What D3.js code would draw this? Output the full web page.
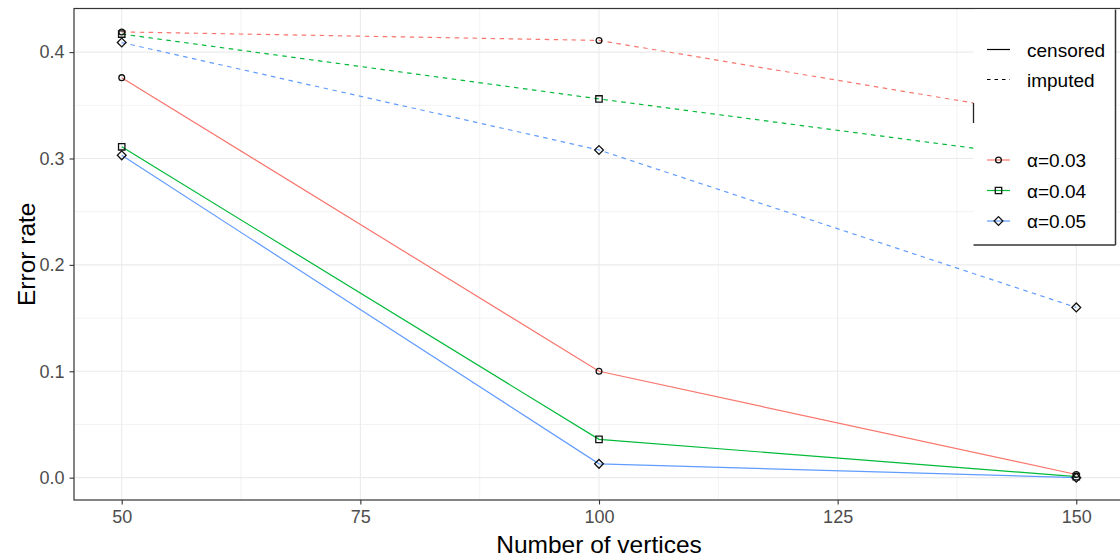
<!DOCTYPE html>
<html>
<head>
<meta charset="utf-8">
<script src="https://cdn.jsdelivr.net/npm/d3@7"></script>
<style>
  html, body { margin: 0; padding: 0; background: #fff; }
  svg { display: block; font-family: "Liberation Sans", Arial, sans-serif; }
</style>
</head>
<body>
<svg id="chart" width="1120" height="560"></svg>
<script>
// Error rate by number of vertices, for three significance levels
const vertices = [50, 100, 150];
const xTicks = [50, 75, 100, 125, 150];
const yTicks = [0, 0.1, 0.2, 0.3, 0.4];
const alphaLabels = ["α=0.03", "α=0.04", "α=0.05"];
const methodLabels = ["censored", "imputed"];

const censored003 = [0.376, 0.100, 0.003];
const censored004 = [0.311, 0.036, 0.001];
const censored005 = [0.303, 0.013, 0.000];
const imputed003 = [0.419, 0.411, 0.336];
const imputed004 = [0.417, 0.356, 0.297];
const imputed005 = [0.409, 0.308, 0.160];

const colors = ["#F8766D", "#00BA38", "#619CFF"];
const shapes = ["circle", "square", "diamond"];

const series = [
  { method: "censored", alpha: 0, values: censored003 },
  { method: "censored", alpha: 1, values: censored004 },
  { method: "censored", alpha: 2, values: censored005 },
  { method: "imputed", alpha: 0, values: imputed003 },
  { method: "imputed", alpha: 1, values: imputed004 },
  { method: "imputed", alpha: 2, values: imputed005 }
];

const svg = d3.select("#chart");
const panel = { left: 74, top: 8.5, right: 1124, bottom: 500 };

// ggplot-style 5% expansion on both axes
const x = d3.scaleLinear().domain([45, 155]).range([panel.left, panel.right]);
const yMax = 0.42;
const y = d3.scaleLinear().domain([-0.05 * yMax, yMax * 1.05]).range([panel.bottom, panel.top]);

svg.append("defs").append("clipPath").attr("id", "panel-clip")
  .append("rect").attr("x", panel.left).attr("y", panel.top)
  .attr("width", panel.right - panel.left).attr("height", panel.bottom - panel.top);

const g = svg.append("g").attr("clip-path", "url(#panel-clip)");

// minor grid
const xMinor = d3.range(62.5, 150, 25);
const yMinor = [0.05, 0.15, 0.25, 0.35];
g.selectAll(".xminor").data(xMinor).join("line")
  .attr("x1", d => x(d)).attr("x2", d => x(d))
  .attr("y1", panel.top).attr("y2", panel.bottom)
  .attr("stroke", "#EBEBEB").attr("stroke-width", 0.6);
g.selectAll(".yminor").data(yMinor).join("line")
  .attr("y1", d => y(d)).attr("y2", d => y(d))
  .attr("x1", panel.left).attr("x2", panel.right)
  .attr("stroke", "#EBEBEB").attr("stroke-width", 0.6);

// major grid
g.selectAll(".xmajor").data(xTicks).join("line")
  .attr("x1", d => x(d)).attr("x2", d => x(d))
  .attr("y1", panel.top).attr("y2", panel.bottom)
  .attr("stroke", "#EBEBEB").attr("stroke-width", 1.1);
g.selectAll(".ymajor").data(yTicks).join("line")
  .attr("y1", d => y(d)).attr("y2", d => y(d))
  .attr("x1", panel.left).attr("x2", panel.right)
  .attr("stroke", "#EBEBEB").attr("stroke-width", 1.1);

// lines
const line = d3.line().x((d, i) => x(vertices[i])).y(d => y(d));
g.selectAll(".series").data(series).join("path")
  .attr("d", d => line(d.values))
  .attr("fill", "none")
  .attr("stroke", d => colors[d.alpha])
  .attr("stroke-width", 1.2)
  .attr("stroke-dasharray", d => d.method === "imputed" ? "4.5,4.5" : null);

// point symbols
function symbolPath(shape) {
  if (shape === "circle") return d3.symbol(d3.symbolCircle, 26)();
  if (shape === "square") return "M-3.2,-3.2H3.2V3.2H-3.2Z";
  return "M0,-4.4L4.4,0L0,4.4L-4.4,0Z";
}
series.forEach(s => {
  g.selectAll(null).data(s.values).join("path")
    .attr("transform", (d, i) => `translate(${x(vertices[i])},${y(d)})`)
    .attr("d", symbolPath(shapes[s.alpha]))
    .attr("fill", "none").attr("stroke", "#111").attr("stroke-width", 1.3);
});

// panel border
svg.append("rect")
  .attr("x", panel.left).attr("y", panel.top)
  .attr("width", panel.right - panel.left).attr("height", panel.bottom - panel.top)
  .attr("fill", "none").attr("stroke", "#333333").attr("stroke-width", 1.2);

// axes
const xAxis = svg.append("g").attr("transform", `translate(0,${panel.bottom})`)
  .call(d3.axisBottom(x).tickValues(xTicks).tickSize(4.5).tickPadding(6).tickFormat(d3.format("d")));
const yAxis = svg.append("g").attr("transform", `translate(${panel.left},0)`)
  .call(d3.axisLeft(y).tickValues(yTicks).tickSize(4.5).tickPadding(5).tickFormat(d3.format(".1f")));
[xAxis, yAxis].forEach(a => {
  a.select(".domain").remove();
  a.selectAll(".tick line").attr("stroke", "#333333").attr("stroke-width", 1.1);
  a.selectAll(".tick text").attr("fill", "#4D4D4D")
    .style("font-size", "18px").style("font-family", "'Liberation Sans', Arial, sans-serif");
});

// axis titles
svg.append("text").attr("x", (panel.left + panel.right) / 2).attr("y", 553)
  .attr("text-anchor", "middle").attr("fill", "#000")
  .style("font-size", "24.5px").text("Number of vertices");
svg.append("text").attr("transform", `translate(35,${(panel.top + panel.bottom) / 2}) rotate(-90)`)
  .attr("text-anchor", "middle").attr("fill", "#000")
  .style("font-size", "24.5px").text("Error rate");

// legend box
const lg = svg.append("g");
const box = { x0: 973.5, x1: 1115.5, y0: 9.5, y1: 245 };
lg.append("rect").attr("x", box.x0).attr("y", box.y0)
  .attr("width", box.x1 - box.x0).attr("height", box.y1 - box.y0).attr("fill", "#fff");
lg.append("line").attr("x1", box.x1).attr("x2", box.x1).attr("y1", box.y0).attr("y2", box.y1)
  .attr("stroke", "#333333").attr("stroke-width", 1.5);
lg.append("line").attr("x1", box.x0).attr("x2", box.x1).attr("y1", box.y1).attr("y2", box.y1)
  .attr("stroke", "#333333").attr("stroke-width", 1.5);
lg.append("line").attr("x1", box.x0).attr("x2", box.x0).attr("y1", 103).attr("y2", 123)
  .attr("stroke", "#222").attr("stroke-width", 1.3);

const keyX0 = 987, keyX1 = 1010, textX = 1027;
const methodY = [49.5, 79.5];
methodLabels.forEach((m, i) => {
  lg.append("line").attr("x1", keyX0).attr("x2", keyX1).attr("y1", methodY[i]).attr("y2", methodY[i])
    .attr("stroke", "#000").attr("stroke-width", 1.2)
    .attr("stroke-dasharray", m === "imputed" ? "3.5,4" : null);
  lg.append("text").attr("x", textX).attr("y", methodY[i] + 7)
    .attr("fill", "#000").style("font-size", "19px").text(m);
});
const alphaY = [160, 190.5, 221];
alphaLabels.forEach((a, i) => {
  lg.append("line").attr("x1", keyX0).attr("x2", keyX1).attr("y1", alphaY[i]).attr("y2", alphaY[i])
    .attr("stroke", colors[i]).attr("stroke-width", 1.2);
  lg.append("path").attr("transform", `translate(${(keyX0 + keyX1) / 2},${alphaY[i]})`)
    .attr("d", symbolPath(shapes[i])).attr("fill", "none")
    .attr("stroke", "#111").attr("stroke-width", 1.3);
  lg.append("text").attr("x", textX).attr("y", alphaY[i] + 7)
    .attr("fill", "#000").style("font-size", "19px").text(a);
});
</script>
</body>
</html>
